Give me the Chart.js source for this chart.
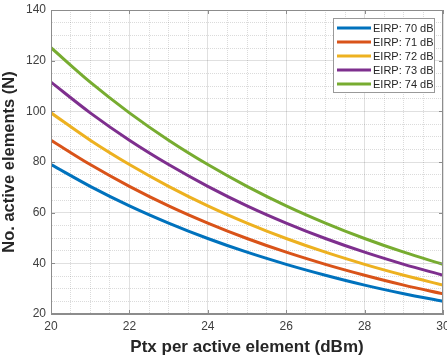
<!DOCTYPE html>
<html>
<head>
<meta charset="utf-8">
<script src="https://cdn.jsdelivr.net/npm/chart.js@4"></script>
<style>
  html, body { margin: 0; padding: 0; background: #fff; }
  #wrap { width: 447px; height: 358px; position: relative; }
</style>
</head>
<body>
<div id="wrap"><canvas id="myChart"></canvas></div>
<script>
const ptx = [20, 21, 22, 23, 24, 25, 26, 27, 28, 29, 30];
const eirp70 = [79.0, 70.4, 62.7, 55.9, 49.8, 44.4, 39.6, 35.3, 31.4, 28.0, 25.0];
const eirp71 = [88.6, 79.0, 70.4, 62.7, 55.9, 49.8, 44.4, 39.6, 35.3, 31.4, 28.0];
const eirp72 = [99.4, 88.6, 79.0, 70.4, 62.7, 55.9, 49.8, 44.4, 39.6, 35.3, 31.4];
const eirp73 = [111.5, 99.4, 88.6, 79.0, 70.4, 62.7, 55.9, 49.8, 44.4, 39.6, 35.3];
const eirp74 = [125.1, 111.5, 99.4, 88.6, 79.0, 70.4, 62.7, 55.9, 49.8, 44.4, 39.6];
const seriesNames = ['EIRP: 70 dB', 'EIRP: 71 dB', 'EIRP: 72 dB', 'EIRP: 73 dB', 'EIRP: 74 dB'];
const seriesValues = [eirp70, eirp71, eirp72, eirp73, eirp74];
const colors = ['#0072BD', '#D95319', '#EDB120', '#7E2F8E', '#77AC30'];
const xMajor = [20, 22, 24, 26, 28, 30];
const yMajor = [20, 40, 60, 80, 100, 120, 140];

const ctx = document.getElementById('myChart');
const fontFam = '"Liberation Sans", Arial, Helvetica, sans-serif';

const datasets = seriesValues.map((vals, i) => ({
    label: seriesNames[i],
    data: vals.map((v, j) => ({ x: ptx[j], y: v })),
    borderColor: colors[i],
    backgroundColor: colors[i],
    borderWidth: 3,
    pointRadius: 0,
    cubicInterpolationMode: 'monotone',
    fill: false
}));

// frame, inward tick marks and legend box like MATLAB
const boxPlugin = {
    id: 'boxPlugin',
    afterDraw(chart) {
        const c = chart.ctx;
        const a = chart.chartArea;
        const sx = chart.scales.x, sy = chart.scales.y;
        c.save();
        c.strokeStyle = '#8c8c8c';
        c.lineWidth = 1;
        c.strokeRect(a.left + 0.5, a.top + 0.5, a.right - a.left - 1, a.bottom - a.top - 1);
        c.beginPath();
        xMajor.forEach(v => {
            const px = Math.round(sx.getPixelForValue(v)) + 0.5;
            c.moveTo(px, a.bottom); c.lineTo(px, a.bottom - 4);
            c.moveTo(px, a.top); c.lineTo(px, a.top + 4);
        });
        yMajor.forEach(v => {
            const py = Math.round(sy.getPixelForValue(v)) + 0.5;
            c.moveTo(a.left, py); c.lineTo(a.left + 4, py);
            c.moveTo(a.right, py); c.lineTo(a.right - 4, py);
        });
        c.stroke();

        // legend
        const lx = 333, ly = 18, lw = 101, lh = 74;
        c.fillStyle = '#fff';
        c.fillRect(lx, ly, lw, lh);
        c.strokeStyle = '#999';
        c.lineWidth = 1;
        c.strokeRect(lx + 0.5, ly + 0.5, lw, lh);
        c.font = '11px ' + fontFam;
        c.textBaseline = 'middle';
        seriesNames.forEach((name, i) => {
            const y = ly + 10 + i * 14;
            c.strokeStyle = colors[i];
            c.lineWidth = 3;
            c.beginPath();
            c.moveTo(337, y);
            c.lineTo(371, y);
            c.stroke();
            c.fillStyle = '#262626';
            c.fillText(name, 373, y + 0.5);
        });
        c.restore();
    }
};

new Chart(ctx, {
    type: 'line',
    data: { datasets: datasets },
    options: {
        responsive: true,
        maintainAspectRatio: false,
        animation: false,
        layout: { padding: { top: 10, right: 4, left: 0, bottom: 0 } },
        plugins: {
            legend: { display: false },
            tooltip: { enabled: false }
        },
        scales: {
            x: {
                type: 'linear',
                min: 20,
                max: 30,
                afterFit: s => { s.height = 44; s.paddingRight = 0; s.paddingLeft = 0; },
                ticks: {
                    stepSize: 0.5,
                    autoSkip: false,
                    maxRotation: 0,
                    padding: 5,
                    color: '#404040',
                    font: { size: 12, family: fontFam },
                    callback: v => (v % 2 === 0 ? String(v) : '')
                },
                grid: {
                    drawTicks: false,
                    color: c => (c.tick && c.tick.value % 2 === 0 ? 'rgba(0,0,0,0.12)' : 'rgba(0,0,0,0.14)')
                },
                border: {
                    color: '#8c8c8c',
                    dash: c => (c.tick && c.tick.value % 2 === 0 ? [] : [1, 1])
                },
                title: {
                    display: true,
                    text: 'Ptx per active element (dBm)',
                    color: '#262626',
                    font: { size: 17, weight: 'bold', family: fontFam },
                    padding: { top: 0, bottom: 0 }
                }
            },
            y: {
                min: 20,
                max: 140,
                afterFit: s => { s.width = 51; s.paddingTop = 0; s.paddingBottom = 0; },
                ticks: {
                    stepSize: 5,
                    autoSkip: false,
                    padding: 5,
                    color: '#404040',
                    font: { size: 12, family: fontFam },
                    callback: v => (v % 20 === 0 ? String(v) : '')
                },
                grid: {
                    drawTicks: false,
                    color: c => (c.tick && c.tick.value % 20 === 0 ? 'rgba(0,0,0,0.12)' : 'rgba(0,0,0,0.14)')
                },
                border: {
                    color: '#8c8c8c',
                    dash: c => (c.tick && c.tick.value % 20 === 0 ? [] : [1, 1])
                },
                title: {
                    display: true,
                    text: 'No. active elements (N)',
                    color: '#262626',
                    font: { size: 16.5, weight: 'bold', family: fontFam },
                    padding: { top: 0, bottom: 2 }
                }
            }
        }
    },
    plugins: [boxPlugin]
});
</script>
</body>
</html>
